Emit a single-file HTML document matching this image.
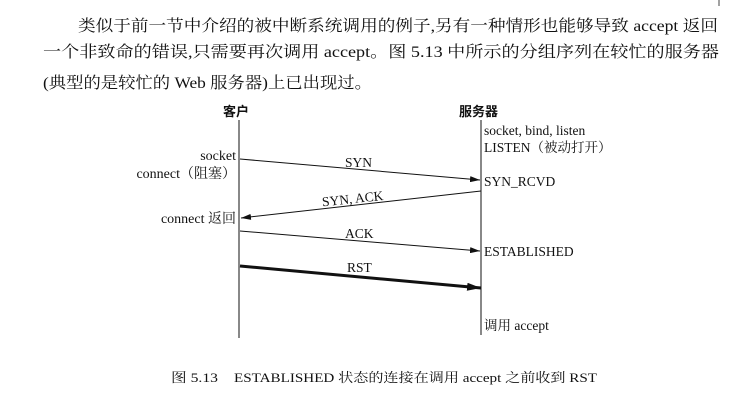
<!DOCTYPE html>
<html><head><meta charset="utf-8"><style>
body{margin:0;background:#fff;width:732px;height:401px;overflow:hidden}
svg{display:block}
text{font-family:"Liberation Serif","Noto Serif CJK SC",serif;fill:#111}
.b{font-family:"Liberation Sans","Noto Sans CJK SC",sans-serif;font-weight:bold}
</style></head><body>
<svg width="732" height="401" viewBox="0 0 732 401">
<defs>
<marker id="a" markerWidth="10" markerHeight="6" refX="10" refY="3" orient="auto" markerUnits="userSpaceOnUse"><path d="M0,0 L10,3 L0,6 Z" fill="#111"/></marker>
<marker id="a2" markerWidth="14" markerHeight="8" refX="14" refY="4" orient="auto" markerUnits="userSpaceOnUse"><path d="M0,0 L14,4 L0,8 Z" fill="#111"/></marker>
</defs>
<text x="78" y="31" font-size="16" textLength="640" lengthAdjust="spacingAndGlyphs">类似于前一节中介绍的被中断系统调用的例子,另有一种情形也能够导致 accept 返回</text>
<text x="43" y="57" font-size="16" textLength="676" lengthAdjust="spacingAndGlyphs">一个非致命的错误,只需要再次调用 accept。图 5.13 中所示的分组序列在较忙的服务器</text>
<text x="43" y="88" font-size="16" textLength="329" lengthAdjust="spacingAndGlyphs">(典型的是较忙的 Web 服务器)上已出现过。</text>
<text class="b" x="223" y="116" font-size="13">客户</text>
<text class="b" x="459" y="116" font-size="13">服务器</text>
<line x1="239" y1="120" x2="239" y2="338" stroke="#111" stroke-width="1"/>
<line x1="481" y1="120" x2="481" y2="335" stroke="#111" stroke-width="1"/>
<text x="484" y="135" font-size="13.5">socket, bind, listen</text>
<text x="484" y="152" font-size="13.5">LISTEN（被动打开）</text>
<text x="236" y="160" font-size="14" text-anchor="end">socket</text>
<text x="236" y="178" font-size="14" text-anchor="end">connect（阻塞）</text>
<line x1="240" y1="159" x2="480" y2="180" stroke="#111" marker-end="url(#a)"/>
<text x="345" y="167" font-size="13.5">SYN</text>
<text x="484" y="186" font-size="13.5">SYN_RCVD</text>
<line x1="481" y1="191" x2="241" y2="218" stroke="#111" marker-end="url(#a)"/>
<text x="322" y="204" font-size="13.5" transform="rotate(-6 345 200)">SYN, ACK</text>
<text x="236" y="223" font-size="14" text-anchor="end">connect 返回</text>
<line x1="240" y1="231" x2="480" y2="251" stroke="#111" marker-end="url(#a)"/>
<text x="345" y="238" font-size="13.5">ACK</text>
<text x="484" y="256" font-size="13.5">ESTABLISHED</text>
<line x1="240" y1="266" x2="481" y2="288" stroke="#111" stroke-width="3" marker-end="url(#a2)"/>
<text x="347" y="272" font-size="13.5">RST</text>
<text x="484" y="330" font-size="13.5">调用 accept</text>
<text x="171" y="382" font-size="13" textLength="47" lengthAdjust="spacingAndGlyphs">图 5.13</text>
<text x="234" y="382" font-size="13" textLength="363" lengthAdjust="spacingAndGlyphs">ESTABLISHED 状态的连接在调用 accept 之前收到 RST</text>
<line x1="719" y1="0" x2="719" y2="6" stroke="#444"/>
</svg>
</body></html>
